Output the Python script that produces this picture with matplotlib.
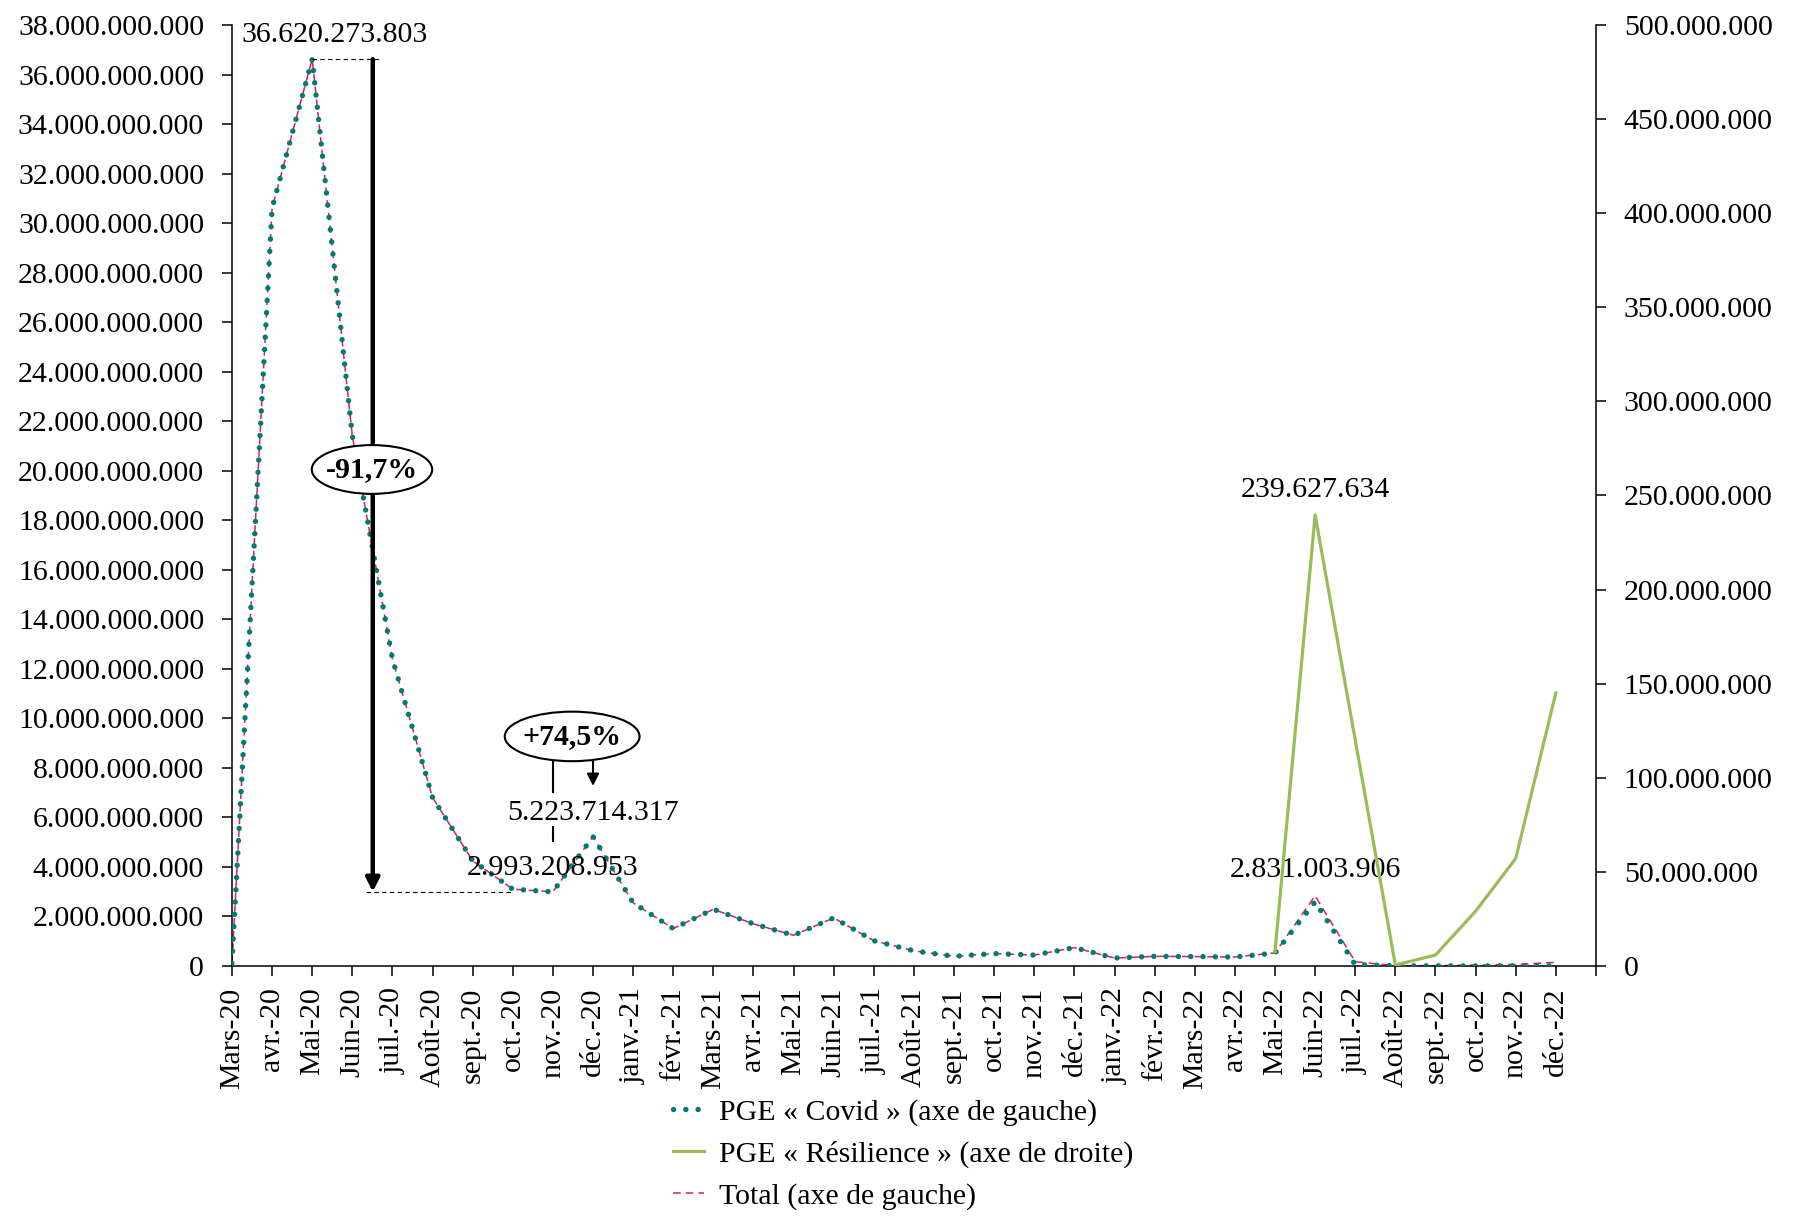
import matplotlib
matplotlib.use("Agg")
import matplotlib.pyplot as plt
import numpy as np
from matplotlib.patches import Ellipse
from matplotlib.lines import Line2D
from matplotlib.ticker import FixedLocator, FuncFormatter

plt.rcParams["font.family"] = ["Liberation Serif", "DejaVu Serif"]
FS = 21.5

MONTHS = [
    "Mars-20", "avr.-20", "Mai-20", "Juin-20", "juil.-20", "Août-20", "sept.-20",
    "oct.-20", "nov.-20", "déc.-20", "janv.-21", "févr.-21", "Mars-21", "avr.-21",
    "Mai-21", "Juin-21", "juil.-21", "Août-21", "sept.-21", "oct.-21", "nov.-21",
    "déc.-21", "janv.-22", "févr.-22", "Mars-22", "avr.-22", "Mai-22", "Juin-22",
    "juil.-22", "Août-22", "sept.-22", "oct.-22", "nov.-22", "déc.-22",
]

# PGE "Covid", milliards d'euros (axe de gauche)
covid_bn = [
    0.1, 30.6, 36.620273803, 21.4, 12.4, 6.8, 4.25, 3.1, 2.993208953, 5.223714317,
    2.55, 1.51, 2.29, 1.70, 1.24, 1.94, 1.02, 0.61, 0.39, 0.50, 0.44, 0.74,
    0.32, 0.39, 0.38, 0.36, 0.52, 2.591376272, 0.05, 0.01, 0.005, 0.004, 0.004, 0.003,
]

# PGE "Résilience", millions d'euros (axe de droite), démarre en mai 2022
resilience_mn = [np.nan] * 26 + [7.6, 239.627634, 120.0, 0.5, 5.8, 29.1, 57.1, 145.1]

# Total, milliards d'euros (axe de gauche)
total_bn = covid_bn[:26] + [0.53, 2.831003906, 0.17, 0.011, 0.011, 0.033, 0.061, 0.148]

TEAL = "#007A73"
GREEN = "#9BBB59"
CRIMSON = "#DC1E5A"


def thousands(v, _pos=None):
    return f"{int(round(v)):,}".replace(",", ".")


x = np.arange(len(MONTHS))
covid = np.array(covid_bn) * 1e9
total = np.array(total_bn) * 1e9
resilience = np.array(resilience_mn) * 1e6

fig = plt.figure(figsize=(17.94, 12.31), dpi=100)
ax = fig.add_axes([0.1293, 0.2153, 0.7603, 0.7644])
ax2 = ax.twinx()

ax.plot(x, total, color=CRIMSON, lw=1.1, ls=(0, (5, 3.3)), zorder=2)
ax.plot(x, covid, color=TEAL, lw=3.9, ls=(0, (0.01, 2.26)),
        dash_capstyle="round", zorder=3)
ax2.plot(x, resilience, color=GREEN, lw=2.3, zorder=3)

ax.set_xlim(0, 34)
ax.set_ylim(0, 38e9)
ax2.set_ylim(0, 500e6)
ax.yaxis.set_major_locator(FixedLocator(np.arange(0, 38.1e9, 2e9)))
ax2.yaxis.set_major_locator(FixedLocator(np.arange(0, 500.1e6, 50e6)))
ax.yaxis.set_major_formatter(FuncFormatter(thousands))
ax2.yaxis.set_major_formatter(FuncFormatter(thousands))

ax.set_xticks(np.arange(0, 35))
ax.set_xticklabels(MONTHS + [""], rotation=90)

for a in (ax, ax2):
    a.spines["top"].set_visible(False)
    for s in a.spines.values():
        s.set_linewidth(1.1)
ax.spines["right"].set_visible(False)
ax2.spines["left"].set_visible(False)
ax2.spines["bottom"].set_visible(False)

ax.tick_params(axis="x", direction="out", length=7.5, width=1.1, pad=8, labelsize=FS)
ax.tick_params(axis="y", direction="out", length=7, width=1.1, pad=13, labelsize=FS)
ax2.tick_params(axis="y", direction="out", length=7, width=1.1, pad=13, labelsize=FS)

# --- annotations -------------------------------------------------------------
peak = covid_bn[2] * 1e9
low = covid_bn[8] * 1e9
ax.plot([2, 3.7], [peak, peak], color="black", lw=0.8, ls=(0, (4, 3)), zorder=4)
ax.plot([3.34, 7.0], [low, low], color="black", lw=0.8, ls=(0, (4, 3)), zorder=4)
ax.annotate("", xy=(3.51, low), xytext=(3.51, peak),
            arrowprops=dict(arrowstyle="-|>", lw=3.2, color="black",
                            mutation_scale=20, shrinkA=0, shrinkB=0), zorder=5)
ax.add_patch(Ellipse((3.49, 20.05e9), 3.0, 1.97e9, fc="white", ec="black",
                     lw=1.5, zorder=6))
ax.text(3.49, 20.05e9, "-91,7%", fontsize=FS, fontweight="bold",
        ha="center", va="center", zorder=7)

ax.add_patch(Ellipse((8.48, 9.27e9), 3.36, 2.0e9, fc="white", ec="black",
                     lw=1.5, zorder=6))
ax.text(8.48, 9.27e9, "+74,5%", fontsize=FS, fontweight="bold",
        ha="center", va="center", zorder=7)
ax.plot([8.0, 8.0], [8.27e9, 7.03e9], color="black", lw=1.5, zorder=5)
ax.plot([8.0, 8.0], [5.6e9, 5.05e9], color="black", lw=1.5, zorder=5)
ax.annotate("", xy=(9.0, 7.27e9), xytext=(9.0, 8.27e9),
            arrowprops=dict(arrowstyle="-|>", lw=1.5, color="black",
                            mutation_scale=18, shrinkA=0, shrinkB=0), zorder=5)

ax.text(2.56, 37.33e9, thousands(36620273803), fontsize=FS, ha="center", va="baseline")
ax.text(9.0, 5.9e9, thousands(5223714317), fontsize=FS, ha="center", va="baseline")
ax.text(8.0, 3.68e9, thousands(2993208953), fontsize=FS, ha="center", va="baseline")
ax.text(27.0, 18.95e9, thousands(239627634), fontsize=FS, ha="center", va="baseline")
ax.text(27.0, 3.61e9, thousands(2831003906), fontsize=FS, ha="center", va="baseline")

# --- legend ------------------------------------------------------------------
handles = [
    Line2D([], [], color=TEAL, lw=3.9, ls=(0, (0.01, 2.26)), dash_capstyle="round"),
    Line2D([], [], color=GREEN, lw=2.3),
    Line2D([], [], color=CRIMSON, lw=1.1, ls=(0, (5, 3.3))),
]
labels = [
    "PGE « Covid » (axe de gauche)",
    "PGE « Résilience » (axe de droite)",
    "Total (axe de gauche)",
]
fig.legend(handles, labels, loc="upper left", bbox_to_anchor=(0.375, 0.1076),
           frameon=False, fontsize=FS, borderpad=0, borderaxespad=0,
           handlelength=1.05, handletextpad=0.5, labelspacing=0.5)

fig.savefig("out.png", dpi=100)
plt.close(fig)
